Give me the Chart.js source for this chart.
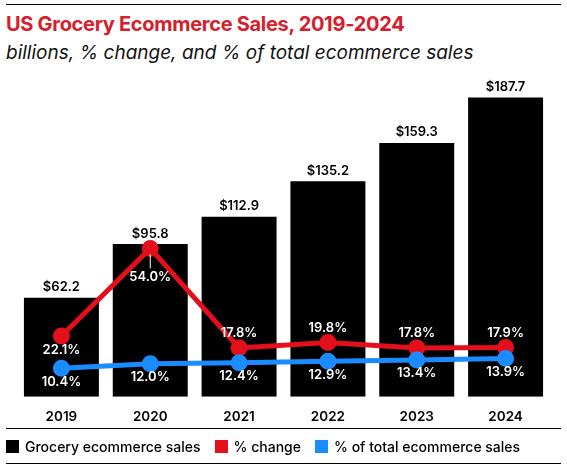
<!DOCTYPE html>
<html><head><meta charset="utf-8">
<script src="https://cdn.jsdelivr.net/npm/chart.js@4"></script>
<style>
body{margin:0;background:#fff;font-family:Inter,"Liberation Sans",sans-serif;}
#wrap{position:absolute;left:6px;top:4px;width:555px;height:458px;border-top:1px solid #000;}
#title{position:absolute;left:0;top:7px;font-size:20px;font-weight:700;color:#d5202b;letter-spacing:-0.3px;}
#sub{position:absolute;left:0;top:36px;font-size:19px;font-style:italic;color:#111;}
#box{position:absolute;left:0;top:62px;width:555px;height:362px;}
#leg{position:absolute;left:0;top:423px;width:555px;height:34px;border-top:1px solid #000;border-bottom:1px solid #000;font-size:14px;font-weight:500;display:flex;align-items:center;gap:14px;}
#leg span{display:inline-flex;align-items:center;}
#leg i{display:inline-block;width:13px;height:13px;margin-right:6px;}
</style></head><body>
<div id="wrap">
<div id="title">US Grocery Ecommerce Sales, 2019-2024</div>
<div id="sub">billions, % change, and % of total ecommerce sales</div>
<div id="box"><canvas id="canvas"></canvas></div>
<div id="leg"><span><i style="background:#000"></i>Grocery ecommerce sales</span><span><i style="background:#e3101c"></i>% change</span><span><i style="background:#1a8cff"></i>% of total ecommerce sales</span></div>
</div>
<script>
// data
const years = ['2019', '2020', '2021', '2022', '2023', '2024'];
const sales = [62.2, 95.8, 112.9, 135.2, 159.3, 187.7];
const pctChange = [22.1, 54.0, 17.8, 19.8, 17.8, 17.9];
const pctTotal = [10.4, 12.0, 12.4, 12.9, 13.4, 13.9];

const labelPlugin = {
  id: 'labels',
  afterDatasetsDraw(chart) {
    const c = chart.ctx;
    c.save();
    c.font = '600 13px Inter, sans-serif';
    c.textAlign = 'center';
    // bar values
    chart.getDatasetMeta(2).data.forEach((b, i) => {
      c.fillStyle = '#000';
      c.textBaseline = 'bottom';
      c.fillText('$' + sales[i].toFixed(1), b.x, b.y - 4);
    });
    // % change
    chart.getDatasetMeta(0).data.forEach((p, i) => {
      const below = i < 2;
      c.fillStyle = '#fff';
      c.textBaseline = below ? 'top' : 'bottom';
      if (i === 1) {
        c.strokeStyle = '#fff'; c.lineWidth = 1;
        c.beginPath(); c.moveTo(p.x, p.y + 6); c.lineTo(p.x, p.y + 20); c.stroke();
        c.fillText(pctChange[i].toFixed(1) + '%', p.x, p.y + 22);
      } else {
        c.fillText(pctChange[i].toFixed(1) + '%', p.x, below ? p.y + 8 : p.y - 8);
      }
    });
    // % of total
    chart.getDatasetMeta(1).data.forEach((p, i) => {
      c.fillStyle = '#fff';
      c.textBaseline = 'top';
      c.fillText(pctTotal[i].toFixed(1) + '%', p.x, p.y + 7);
    });
    c.restore();
  }
};

const ctx = document.getElementById('canvas').getContext('2d');
new Chart(ctx, {
  data: {
    labels: years,
    datasets: [
      { type: 'line', label: '% change', data: pctChange, yAxisID: 'y1', borderColor: '#e3101c', backgroundColor: '#e3101c', borderWidth: 5, pointRadius: 6, order: 1 },
      { type: 'line', label: '% of total ecommerce sales', data: pctTotal, yAxisID: 'y1', borderColor: '#1a8cff', backgroundColor: '#1a8cff', borderWidth: 5, pointRadius: 6, order: 0 },
      { type: 'bar', label: 'Grocery ecommerce sales', data: sales, yAxisID: 'y', backgroundColor: '#000', categoryPercentage: 0.87, barPercentage: 0.97, order: 2 }
    ]
  },
  options: {
    responsive: true, maintainAspectRatio: false, animation: false,
    layout: { padding: { top: 0, left: 0, right: 0, bottom: 0 } },
    plugins: { legend: { display: false }, tooltip: { enabled: false } },
    scales: {
      x: { grid: { display: false }, border: { display: false },
           ticks: { color: '#000', font: { family: 'Inter', size: 13.5, weight: '600' }, padding: 4 } },
      y: { display: false, min: 0, max: 200 },
      y1: { display: false, min: 0, max: 116 }
    }
  },
  plugins: [labelPlugin]
});
</script>
</body></html>
